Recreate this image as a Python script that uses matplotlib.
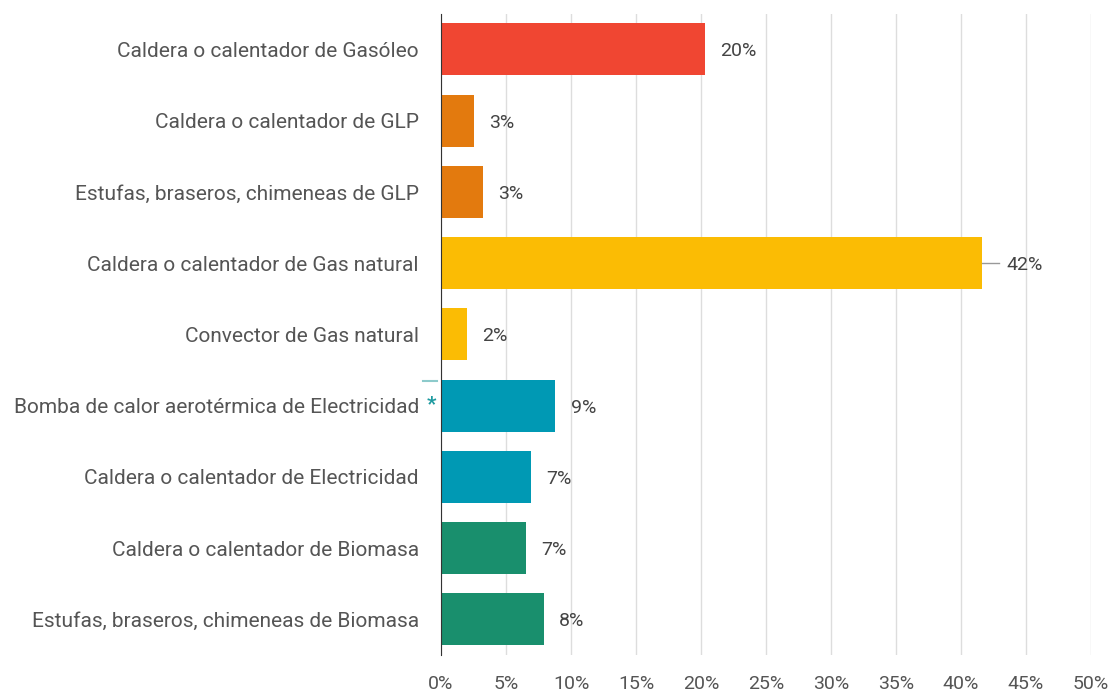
import matplotlib

matplotlib.use("Agg")

import matplotlib.pyplot as plt

categories = [
    "Caldera o calentador de Gasóleo",
    "Caldera o calentador de GLP",
    "Estufas, braseros, chimeneas de GLP",
    "Caldera o calentador de Gas natural",
    "Convector de Gas natural",
    "Bomba de calor aerotérmica de Electricidad",
    "Caldera o calentador de Electricidad",
    "Caldera o calentador de Biomasa",
    "Estufas, braseros, chimeneas de Biomasa",
]
values = [20.3, 2.5, 3.2, 41.6, 2.0, 8.8, 6.9, 6.5, 7.9]
value_labels = ["20%", "3%", "3%", "42%", "2%", "9%", "7%", "7%", "8%"]
colors = ["#F04632", "#E37A0E", "#E37A0E", "#FBBC04", "#FBBC04",
          "#0099B4", "#0099B4", "#198F6D", "#198F6D"]
xticks = [0, 5, 10, 15, 20, 25, 30, 35, 40, 45, 50]

plt.rcParams["font.family"] = ["Roboto", "DejaVu Sans"]

fig = plt.figure(figsize=(11.09, 6.91), dpi=100)
ax = fig.add_axes([0.3977, 0.052, 0.5861, 0.928])

y = list(range(len(categories)))
ax.barh(y, values, height=0.73, color=colors, zorder=3)
ax.set_ylim(len(categories) - 0.5, -0.5)
ax.set_xlim(0, 50)
ax.set_xticks(xticks)
ax.set_xticklabels([f"{t}%" for t in xticks])
ax.set_yticks(y)
ax.set_yticklabels(categories)
ax.tick_params(axis="both", length=0, colors="#555555")
ax.tick_params(axis="y", pad=16, labelsize=15)
ax.tick_params(axis="x", pad=14, labelsize=14)
ax.grid(axis="x", color="#dddddd", linewidth=1, zorder=0)
for s in ["top", "right", "bottom"]:
    ax.spines[s].set_visible(False)
ax.spines["left"].set_color("#333333")
ax.spines["left"].set_zorder(4)

for i, (v, lab) in enumerate(zip(values, value_labels)):
    if v > 40:
        ax.plot([v, v + 1.3], [i, i], color="#999999", linewidth=1, zorder=3)
        ax.annotate(lab, xy=(v, i), xytext=(18, 0), textcoords="offset points",
                    va="center_baseline", ha="left", fontsize=14, color="#444444")
    else:
        ax.annotate(lab, xy=(v, i), xytext=(11, 0), textcoords="offset points",
                    va="center_baseline", ha="left", fontsize=14, color="#444444")

# marker next to the heat pump row
ax.annotate("*", xy=(0, 5), xytext=(-7, 1), textcoords="offset points",
            ha="center", va="center", fontsize=15, color="#1E9AA0",
            fontweight="bold", annotation_clip=False)
ax.plot([-1.35, -0.3], [4.66, 4.66], color="#8CCACB", linewidth=1.5,
        clip_on=False, zorder=5)

fig.savefig("out.png", dpi=100)
